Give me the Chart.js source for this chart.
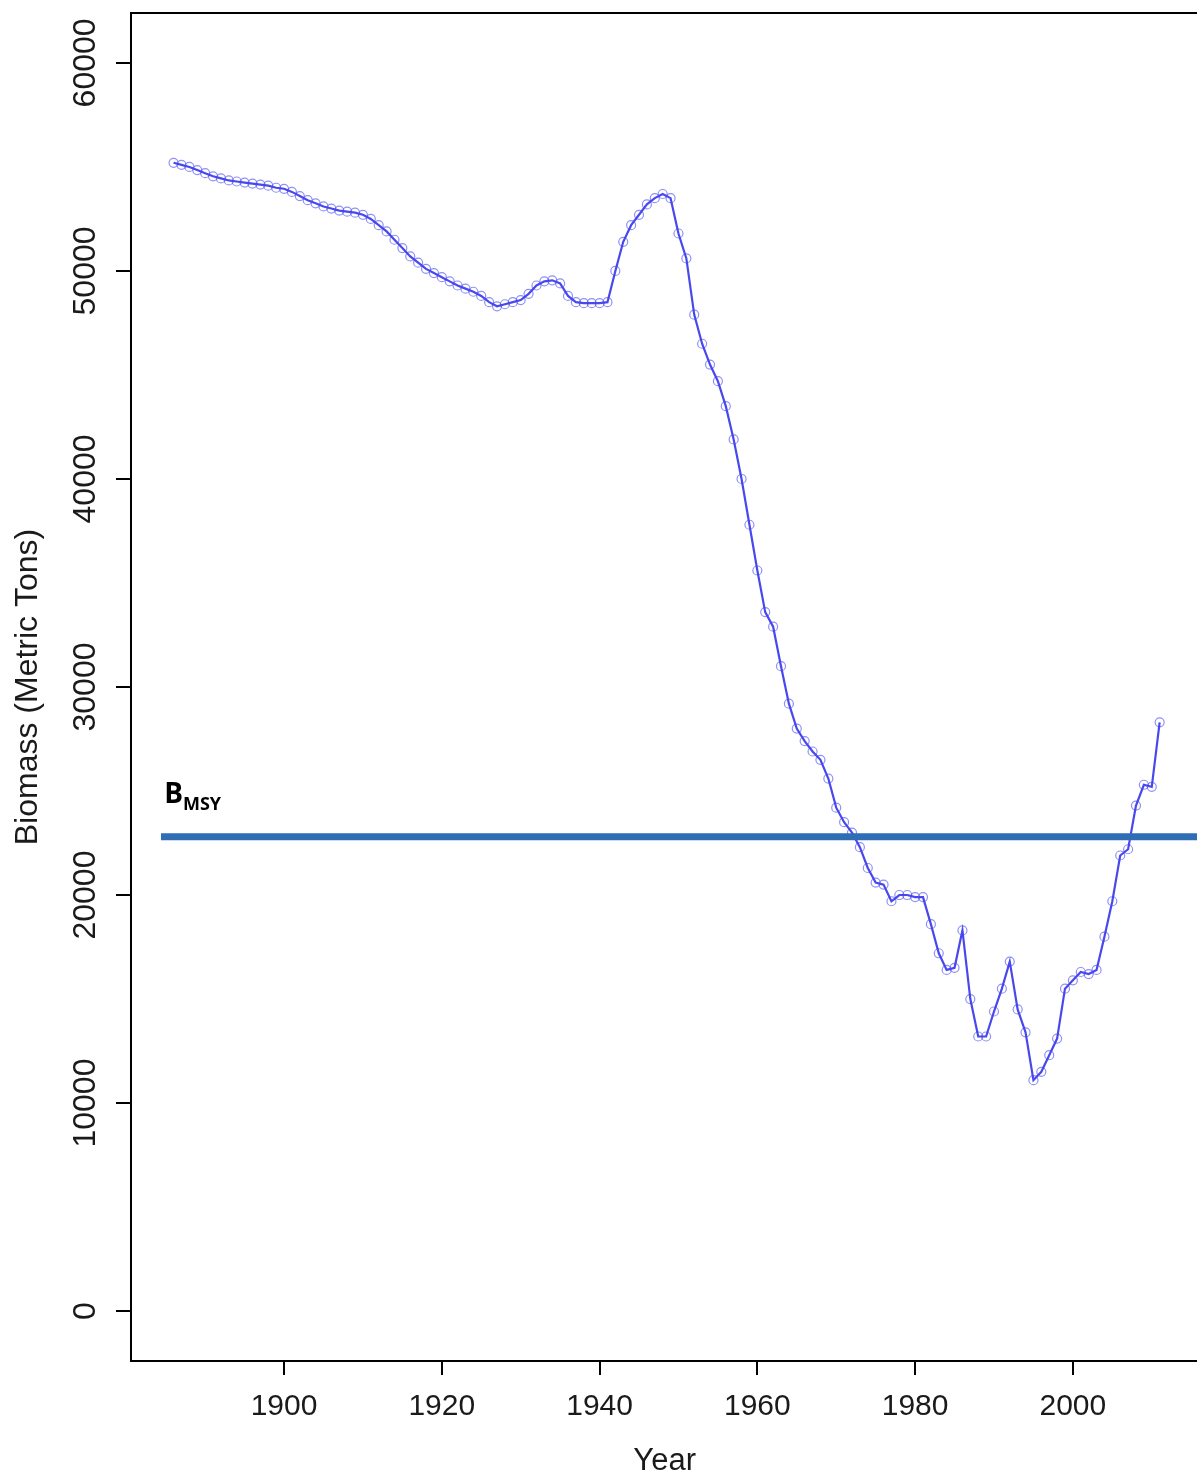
<!DOCTYPE html>
<html>
<head>
<meta charset="utf-8">
<script src="https://cdn.jsdelivr.net/npm/chart.js@4.4.1/dist/chart.umd.min.js"></script>
<style>
  html, body { margin: 0; padding: 0; background: #fff; overflow: hidden; }
  #wrap { width: 1204px; height: 1479px; }
</style>
</head>
<body>
<div id="wrap"><canvas id="myChart" width="1204" height="1479"></canvas></div>
<script>
// stock biomass by year
const years = [
  1886, 1887, 1888, 1889, 1890, 1891, 1892, 1893, 1894, 1895,
  1896, 1897, 1898, 1899, 1900, 1901, 1902, 1903, 1904, 1905,
  1906, 1907, 1908, 1909, 1910, 1911, 1912, 1913, 1914, 1915,
  1916, 1917, 1918, 1919, 1920, 1921, 1922, 1923, 1924, 1925,
  1926, 1927, 1928, 1929, 1930, 1931, 1932, 1933, 1934, 1935,
  1936, 1937, 1938, 1939, 1940, 1941, 1942, 1943, 1944, 1945,
  1946, 1947, 1948, 1949, 1950, 1951, 1952, 1953, 1954, 1955,
  1956, 1957, 1958, 1959, 1960, 1961, 1962, 1963, 1964, 1965,
  1966, 1967, 1968, 1969, 1970, 1971, 1972, 1973, 1974, 1975,
  1976, 1977, 1978, 1979, 1980, 1981, 1982, 1983, 1984, 1985,
  1986, 1987, 1988, 1989, 1990, 1991, 1992, 1993, 1994, 1995,
  1996, 1997, 1998, 1999, 2000, 2001, 2002, 2003, 2004, 2005,
  2006, 2007, 2008, 2009, 2010, 2011
];
const biomass = [
  55200, 55100, 55000, 54850, 54700, 54550, 54450, 54350, 54300, 54250,
  54200, 54150, 54100, 54000, 53950, 53800, 53600, 53400, 53250, 53100,
  53000, 52900, 52850, 52800, 52700, 52500, 52200, 51900, 51500, 51100,
  50700, 50400, 50100, 49900, 49700, 49500, 49300, 49150, 49000, 48800,
  48500, 48300, 48400, 48500, 48600, 48900, 49300, 49500, 49550, 49400,
  48800, 48500, 48450, 48450, 48450, 48500, 50000, 51400, 52200, 52700,
  53200, 53500, 53700, 53500, 51800, 50600, 47900, 46500, 45500, 44700,
  43500, 41900, 40000, 37800, 35600, 33600, 32900, 31000, 29200, 28000,
  27400, 26900, 26500, 25600, 24200, 23500, 23000, 22300, 21300, 20600,
  20500, 19700, 20000, 20000, 19900, 19900, 18600, 17200, 16400, 16500,
  18300, 15000, 13200, 13200, 14400, 15500, 16800, 14500, 13400, 11100,
  11500, 12300, 13100, 15500, 15900, 16300, 16200, 16400, 18000, 19700,
  21900, 22200, 24300, 25300, 25200, 28300
];
const bmsy = 22800;
const bmsyYears = [1884.4, 2015.9];
const xTicks = [1900, 1920, 1940, 1960, 1980, 2000];
const yTicks = [0, 10000, 20000, 30000, 40000, 50000, 60000];

const textColor = '#1a1a1a';
const axisFont = 'Liberation Sans, Arial, sans-serif';

const framePlugin = {
  id: 'frame',
  afterDraw(chart) {
    const ctx = chart.ctx;
    const a = chart.chartArea;
    const ys = chart.scales.y;
    const xs = chart.scales.x;
    ctx.save();
    ctx.strokeStyle = '#000';
    ctx.lineWidth = 2;
    ctx.strokeRect(a.left, a.top, a.right - a.left, a.bottom - a.top);

    // y tick labels, parallel to the axis like R draws them
    ctx.fillStyle = textColor;
    ctx.font = '32px ' + axisFont;
    ctx.textAlign = 'center';
    ctx.textBaseline = 'middle';
    ys.ticks.forEach(t => {
      ctx.save();
      ctx.translate(86, ys.getPixelForValue(t.value));
      ctx.rotate(-Math.PI / 2);
      ctx.fillText(String(t.value), 0, 0);
      ctx.restore();
    });

    // B_MSY label
    const lx = xs.getPixelForValue(1884.8);
    const ly = ys.getPixelForValue(bmsy) - 34;
    ctx.fillStyle = '#000';
    ctx.textAlign = 'left';
    ctx.textBaseline = 'alphabetic';
    ctx.font = 'bold 28px "Open Sans", sans-serif';
    ctx.fillText('B', lx, ly);
    const bw = ctx.measureText('B').width;
    ctx.font = 'bold 18px "Open Sans", sans-serif';
    ctx.fillText('MSY', lx + bw, ly + 7);
    ctx.restore();
  }
};

const ctx = document.getElementById('myChart').getContext('2d');
const myChart = new Chart(ctx, {
  type: 'line',
  data: {
    datasets: [
      {
        label: 'BMSY',
        data: bmsyYears.map(x => ({ x: x, y: bmsy })),
        borderColor: '#2f6db5',
        borderWidth: 7,
        pointRadius: 0,
        fill: false
      },
      {
        label: 'Biomass',
        data: years.map((yr, i) => ({ x: yr, y: biomass[i] })),
        borderColor: 'rgba(40, 40, 235, 0.85)',
        borderWidth: 2.2,
        tension: 0,
        pointStyle: 'circle',
        pointRadius: 4.5,
        pointBackgroundColor: 'rgba(0, 0, 0, 0)',
        pointBorderColor: 'rgba(70, 70, 240, 0.6)',
        pointBorderWidth: 1.2,
        fill: false
      }
    ]
  },
  options: {
    responsive: false,
    animation: false,
    layout: { padding: { top: 13, right: 4, left: 0, bottom: 0 } },
    plugins: {
      legend: { display: false },
      tooltip: { enabled: false }
    },
    scales: {
      x: {
        type: 'linear',
        min: 1880.6,
        max: 2015.9,
        afterBuildTicks: s => { s.ticks = xTicks.map(v => ({ value: v })); },
        afterFit: s => { s.height = 118; },
        border: { display: false },
        grid: { drawOnChartArea: false, drawTicks: true, tickLength: 14, color: '#000', lineWidth: 2 },
        ticks: {
          color: textColor,
          font: { family: axisFont, size: 30 },
          padding: 14,
          maxRotation: 0,
          autoSkip: false,
          callback: v => String(v)
        },
        title: {
          display: true,
          text: 'Year',
          color: textColor,
          font: { family: axisFont, size: 31, lineHeight: 1 },
          padding: { top: 0, bottom: 2 }
        }
      },
      y: {
        type: 'linear',
        min: -2400,
        max: 62400,
        afterBuildTicks: s => { s.ticks = yTicks.map(v => ({ value: v })); },
        afterFit: s => { s.width = 131; },
        border: { display: false },
        grid: { drawOnChartArea: false, drawTicks: true, tickLength: 15, color: '#000', lineWidth: 2 },
        ticks: { display: false },
        title: {
          display: true,
          text: 'Biomass (Metric Tons)',
          color: textColor,
          font: { family: axisFont, size: 32, lineHeight: 1 },
          padding: { top: 12, bottom: 0 }
        }
      }
    }
  },
  plugins: [framePlugin]
});
</script>
</body>
</html>
